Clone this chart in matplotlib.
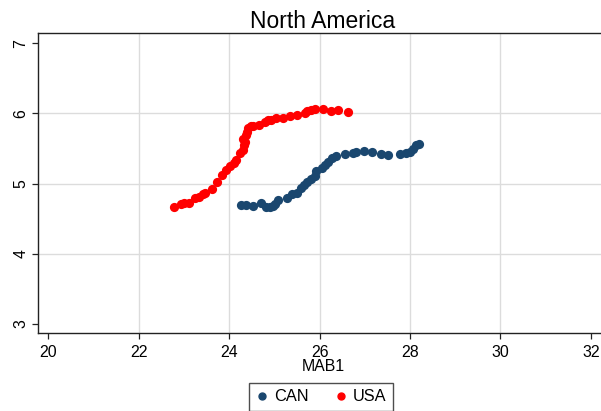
import matplotlib
matplotlib.use("Agg")
import matplotlib.pyplot as plt
from matplotlib.lines import Line2D

plt.rcParams['font.family'] = ['Liberation Sans', 'DejaVu Sans']

title = "North America"
xlabel = "MAB1"
x_ticks = [20, 22, 24, 26, 28, 30, 32]
y_ticks = [3, 4, 5, 6, 7]

usa_x = [22.77, 22.94, 22.99, 23.10, 23.25, 23.33, 23.41, 23.46, 23.62, 23.72,
         23.83, 23.94, 24.01, 24.11, 24.14, 24.25, 24.31, 24.33, 24.34, 24.31,
         24.38, 24.39, 24.42, 24.48, 24.53, 24.66, 24.79, 24.86, 24.93, 25.04,
         25.19, 25.34, 25.49, 25.67, 25.72, 25.80, 25.89, 26.08, 26.26, 26.41,
         26.63]
usa_y = [4.66, 4.71, 4.72, 4.72, 4.79, 4.81, 4.85, 4.86, 4.92, 5.02,
         5.13, 5.20, 5.25, 5.30, 5.34, 5.43, 5.48, 5.55, 5.59, 5.64,
         5.69, 5.74, 5.79, 5.82, 5.82, 5.84, 5.88, 5.90, 5.91, 5.93,
         5.94, 5.97, 5.98, 6.01, 6.04, 6.05, 6.06, 6.07, 6.04, 6.05,
         6.02]

can_x = [24.27, 24.37, 24.52, 24.71, 24.82, 24.90, 24.97, 25.01, 25.07, 25.27,
         25.40, 25.50, 25.58, 25.65, 25.73, 25.82, 25.89, 25.92, 26.05, 26.12,
         26.19, 26.27, 26.36, 26.56, 26.74, 26.80, 26.98, 27.15, 27.35, 27.52,
         27.77, 27.92, 28.01, 28.07, 28.13, 28.20]
can_y = [4.69, 4.69, 4.68, 4.72, 4.66, 4.66, 4.68, 4.71, 4.76, 4.79,
         4.85, 4.87, 4.94, 4.98, 5.02, 5.07, 5.11, 5.18, 5.23, 5.26,
         5.31, 5.36, 5.40, 5.42, 5.44, 5.45, 5.46, 5.45, 5.42, 5.41,
         5.42, 5.44, 5.45, 5.50, 5.55, 5.57]

can_color = "#1a476f"
usa_color = "#ff0000"

fig = plt.figure(figsize=(6.01, 4.11), dpi=100)
ax = fig.add_axes([38/601, (411-333.3)/411, (608-38)/601, (333.3-33)/411])

ax.scatter(can_x, can_y, s=44, color=can_color, zorder=3, linewidths=0)
ax.scatter(usa_x, usa_y, s=44, color=usa_color, zorder=3, linewidths=0)

ax.set_xlim(19.77, 19.77 + 570/45.2)
ax.set_ylim(2.867, 7.147)
ax.set_xticks(x_ticks)
ax.set_yticks(y_ticks)
ax.set_xticklabels([str(t) for t in x_ticks], fontsize=11.4)
ax.set_yticklabels([str(t) for t in y_ticks], fontsize=11.4, rotation=90, va='center')

for t in x_ticks[1:-1]:
    ax.axvline(t, color="#dcdcdc", lw=1.0, zorder=1)
for t in y_ticks[1:-1]:
    ax.axhline(t, color="#dcdcdc", lw=1.0, zorder=1)

for s in ax.spines.values():
    s.set_color("#222222")
    s.set_linewidth(1.0)
ax.tick_params(axis='both', direction='out', length=4, width=0.9, color="#222222", pad=3)
ax.tick_params(axis='x', pad=4.5)

ax.set_xlabel(xlabel, fontsize=11.4, labelpad=-0.5)
ax.set_title(title, fontsize=16.5, pad=2)

handles = [Line2D([], [], marker='o', ls='', color=can_color, markersize=5, label='CAN'),
           Line2D([], [], marker='o', ls='', color=usa_color, markersize=5, label='USA')]
leg = fig.legend(handles=handles, loc='upper center', bbox_to_anchor=(321/601, (411-382.7)/411),
                 ncol=2, frameon=True, fancybox=False, fontsize=11.8, handletextpad=0.35,
                 columnspacing=1.55, borderpad=0.4, handlelength=0.8, borderaxespad=0)
leg.get_frame().set_edgecolor("#222222")
leg.get_frame().set_linewidth(1.0)

fig.savefig("out.png", dpi=100)
